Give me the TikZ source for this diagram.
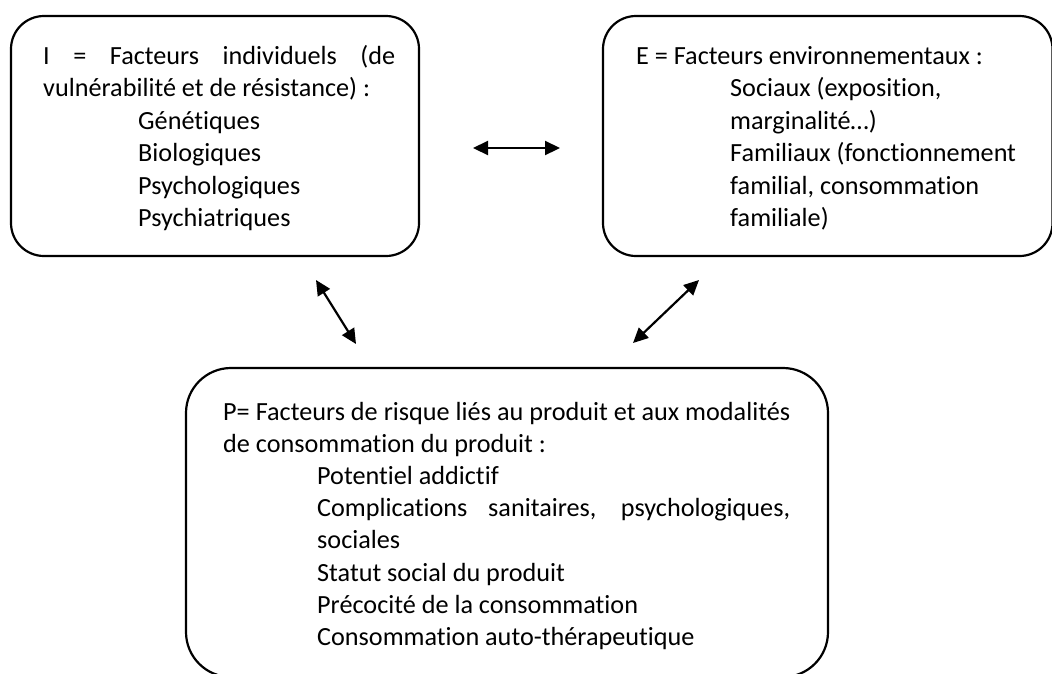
\documentclass[tikz,border=0pt]{standalone}
\usepackage{fontspec}
\setmainfont{Carlito}[Ligatures=NoCommon]
\usetikzlibrary{arrows.meta}

\begin{document}
\begin{tikzpicture}[x=1pt,y=-1pt,
  box/.style={draw=black, line width=2.2pt, rounded corners=#1, inner sep=0pt},
  box/.default=33pt,
  txt/.style={inner sep=0pt, anchor=base west, font=\fontsize{26.2}{32.5}\selectfont},
  dbl/.style={line width=2.2pt,
    {Triangle[length=15pt,width=14pt]}-{Triangle[length=15pt,width=14pt]}}]

\clip (0,0) rectangle (1052,673);
\useasboundingbox (0,0) rectangle (1052,673);

% three rounded frames
\node[box, minimum width=408pt, minimum height=240pt] (I) at (215,136) {};
\node[box, minimum width=449.5pt, minimum height=240pt] (E) at (827.75,136) {};
\node[box=45pt, minimum width=642pt, minimum height=309pt] (P) at (507,522.5) {};

% individual factors
\node[txt] (Itxt) at (43,64) {\parbox[t]{352pt}{%
  \makebox[352pt][s]{I = Facteurs individuels (de}\\
  vulnérabilité et de résistance) :\\
  \hspace*{95pt}Génétiques\\
  \hspace*{95pt}Biologiques\\
  \hspace*{95pt}Psychologiques\\
  \hspace*{95pt}Psychiatriques}};

% environmental factors
\node[txt] (Etxt) at (636,64) {\parbox[t]{400pt}{%
  E = Facteurs environnementaux :\\
  \hspace*{94pt}Sociaux (exposition,\\
  \hspace*{94pt}marginalité…)\\
  \hspace*{94pt}Familiaux (fonctionnement\\
  \hspace*{94pt}familial, consommation\\
  \hspace*{94pt}familiale)}};

% product-related factors
\node[txt, font=\fontsize{26.2}{32.2}\selectfont] (Ptxt) at (223,420) {\parbox[t]{567pt}{%
  \makebox[567pt][s]{P= Facteurs de risque liés au produit et aux modalités}\\
  de consommation du produit :\\
  \hspace*{94pt}Potentiel addictif\\
  \hspace*{94pt}\makebox[473pt][s]{Complications sanitaires, psychologiques,}\\
  \hspace*{94pt}sociales\\
  \hspace*{94pt}Statut social du produit\\
  \hspace*{94pt}Précocité de la consommation\\
  \hspace*{94pt}Consommation auto-thérapeutique}};

% interaction arrows
\coordinate (ie1) at (473,148);
\coordinate (ie2) at (560,148);
\coordinate (ip1) at (316,280);
\coordinate (ip2) at (356,344);
\coordinate (ep1) at (699,280);
\coordinate (ep2) at (633,343);
\draw[dbl] (ie1) -- (ie2);
\draw[dbl] (ip1) -- (ip2);
\draw[dbl] (ep1) -- (ep2);
\end{tikzpicture}
\end{document}
